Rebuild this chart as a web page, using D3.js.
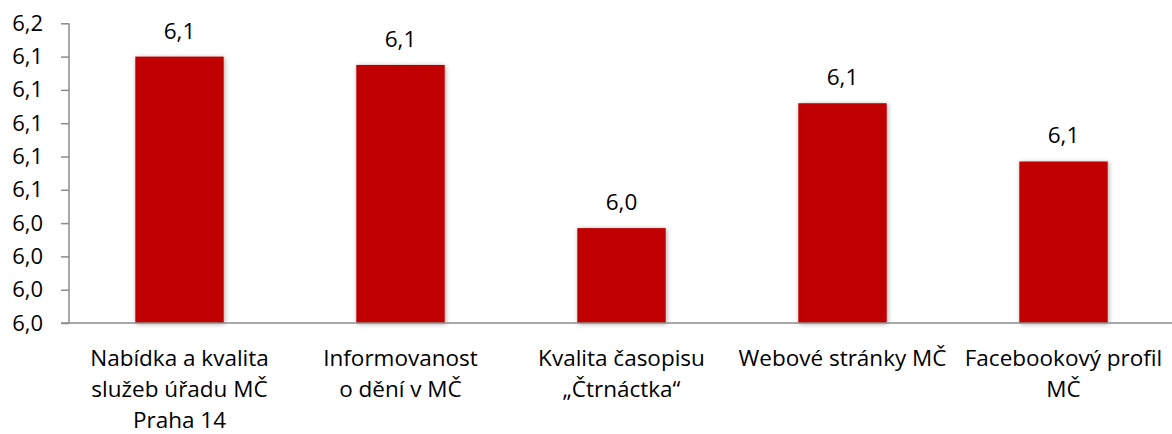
<!DOCTYPE html>
<html><head><meta charset="utf-8">
<script src="https://cdn.jsdelivr.net/npm/d3@7"></script>
<style>body{margin:0;background:#fff}svg{display:block}text{font-family:"Open Sans",Lato,sans-serif;fill:#000}</style>
</head><body><svg id="c" width="1172" height="434"></svg>
<script>
const categories = [
  ["Nabídka a kvalita","služeb úřadu MČ","Praha 14"],
  ["Informovanost","o dění v MČ"],
  ["Kvalita časopisu","„Čtrnáctka“"],
  ["Webové stránky MČ"],
  ["Facebookový profil","MČ"]
];
const values = [6.140, 6.135, 6.037, 6.112, 6.077];
const yTicks = [5.98, 6.00, 6.02, 6.04, 6.06, 6.08, 6.10, 6.12, 6.14, 6.16];

(function(){
const svg = d3.select("#c");
const pL = 69, pR = 1174, pT = 23.3, pB = 323;
const FONT = '"Open Sans", Lato, sans-serif';
const FS = 22.5;
const fmt = v => d3.format(".1f")(v).replace(".", ",");

const x = d3.scaleBand().domain(d3.range(values.length)).range([pL, pR]).paddingInner(0.6).paddingOuter(0.3);
const y = d3.scaleLinear().domain([5.98, 6.16]).range([pB, pT]);

const defs = svg.append("defs");
const f = defs.append("filter").attr("id","sh").attr("x","-20%").attr("y","-20%").attr("width","140%").attr("height","140%");
f.append("feGaussianBlur").attr("in","SourceAlpha").attr("stdDeviation",2.5);
f.append("feOffset").attr("dx",1).attr("dy",1).attr("result","b");
f.append("feComponentTransfer").append("feFuncA").attr("type","linear").attr("slope",0.35);
const m = f.append("feMerge"); m.append("feMergeNode"); m.append("feMergeNode").attr("in","SourceGraphic");

svg.append("g").selectAll("rect").data(values).join("rect")
  .attr("x",(d,i)=>x(i)).attr("width",x.bandwidth())
  .attr("y",d=>y(d)).attr("height",d=>pB-y(d))
  .attr("fill","#C00000").attr("filter","url(#sh)");

const ya = svg.append("g").attr("transform",`translate(${pL},0)`)
  .call(d3.axisLeft(y).tickValues(yTicks).tickFormat(fmt).tickSize(8).tickPadding(18));
ya.select(".domain").attr("stroke","#8c8c8c").attr("stroke-width",1.5).attr("d",`M0,${pT}V${pB}`);
ya.selectAll(".tick line").attr("stroke","#8c8c8c").attr("stroke-width",1.5);
ya.selectAll(".tick text").attr("font-size",22).attr("font-family",FONT).attr("fill","#000");

svg.append("line").attr("x1",pL-8).attr("x2",1172).attr("y1",pB).attr("y2",pB)
  .attr("stroke","#8c8c8c").attr("stroke-width",1.5);

svg.append("g").selectAll("text").data(values).join("text")
  .attr("x",(d,i)=>x(i)+x.bandwidth()/2).attr("y",d=>y(d)-18)
  .attr("text-anchor","middle").attr("font-size",FS).text(d=>fmt(d));

const cg = svg.append("g").selectAll("text").data(categories).join("text")
  .attr("x",(d,i)=>x(i)+x.bandwidth()/2).attr("y",366)
  .attr("text-anchor","middle").attr("font-size",FS);
cg.selectAll("tspan").data(d=>d).join("tspan")
  .attr("x",function(){return this.parentNode.getAttribute("x");})
  .attr("dy",(d,i)=>i?31:0).text(d=>d);
})();
</script></body></html>
